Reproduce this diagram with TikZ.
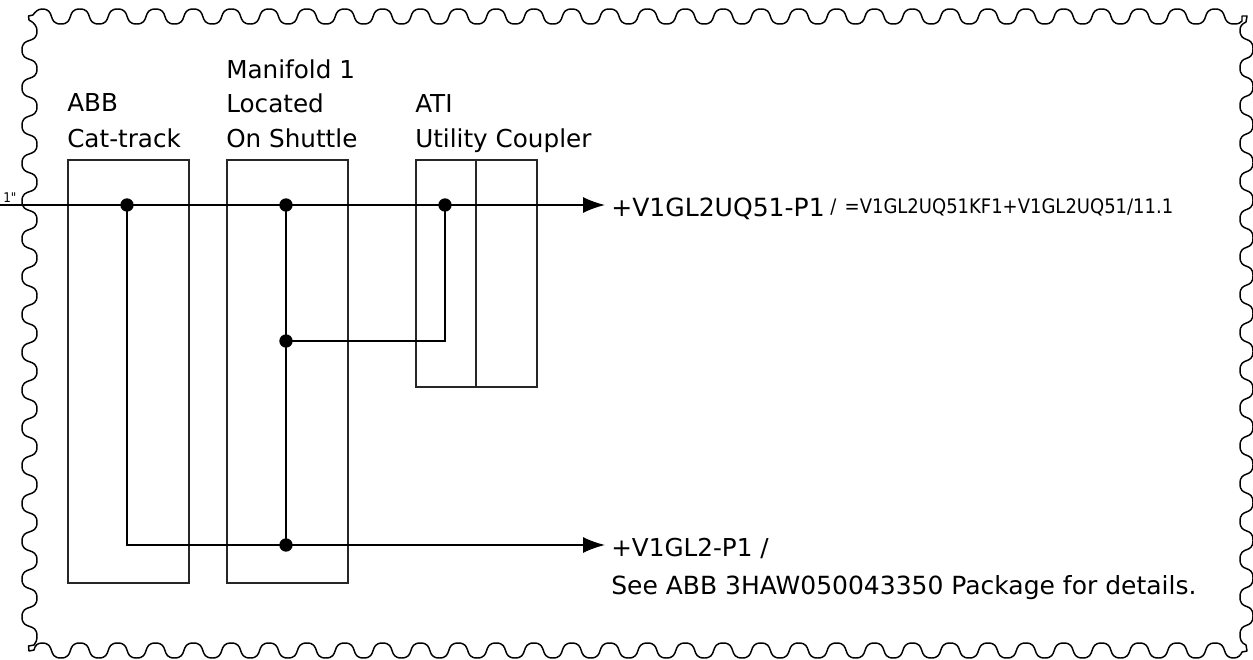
\documentclass[tikz,border=0pt]{standalone}
\usepackage{fontspec}
\setmainfont{DejaVu Sans}
\newfontfamily\smallfont{DejaVu Sans Condensed}
\usetikzlibrary{arrows.meta}
\newcommand{\pxfont}[1]{\fontsize{#1}{#1}\selectfont}
\tikzset{
  x=0.75pt, y=-0.75pt,
  wire/.style={line width=1.15pt, black},
  encl/.style={draw=black!85, line width=1.4pt, inner sep=0pt, rectangle, anchor=north west},
  dotnode/.style={circle, fill=black, inner sep=0pt, minimum size=10pt},
  lbl/.style={anchor=base west, inner sep=0pt, text=black, font=\pxfont{18.5}},
  biglbl/.style={lbl, font=\pxfont{18.8}},
  smalllbl/.style={lbl, font=\smallfont\pxfont{15}},
  flowarrow/.style={wire, -{Latex[length=16.5pt, width=12pt]}},
  edge line/.style={line width=1.1pt, black, line join=round}
}
\begin{document}
\begin{tikzpicture}
\useasboundingbox (0,0) rectangle (1253,660);
% scalloped border
\def\pa{37.84}\def\ha{18.92}\def\pb{37.8}\def\hb{18.9}\def\hh{14}
\draw[edge line]
  (42,9)
  \foreach \k in {0,...,31} {
    .. controls ({42+\k*\pa+\hh},9) and ({42+\k*\pa+\ha-\hh},24) .. ({42+\k*\pa+\ha},24)
    \ifnum\k<31 .. controls ({42+\k*\pa+\ha+\hh},24) and ({42+\k*\pa+\pa-\hh},9) .. ({42+\k*\pa+\pa},9) \fi
  }
  .. controls (1238,24) and (1241,23) .. (1242,21) -- (1242,16) -- (1247,16) -- (1246,22)
  .. controls (1242,24) and (1240,26) .. (1240,30)
  \foreach \k in {0,...,15} {
    .. controls (1240,{30+\k*\pb+\hh}) and (1253,{30+\k*\pb+\hb-\hh}) .. (1253,{30+\k*\pb+\hb})
    .. controls (1253,{30+\k*\pb+\hb+\hh}) and (1240,{30+\k*\pb+\pb-\hh}) .. (1240,{30+\k*\pb+\pb})
  }
  .. controls (1240,639) and (1241,643) .. (1246,645) -- (1247,651) -- (1242,652)
  .. controls (1241,655) and (1238,658) .. (1234,658)
  \foreach \k in {31,...,0} {
    .. controls ({42+\k*\pa+\ha-\hh},658) and ({42+\k*\pa+\hh},643) .. ({42+\k*\pa},643)
    \ifnum\k>0 .. controls ({42+\k*\pa-\hh},643) and ({42+\k*\pa-\ha+\hh},658) .. ({42+\k*\pa-\ha},658) \fi
  }
  .. controls (38,643) and (35,645) .. (34,650) -- (29,651) -- (28.5,646) -- (34,645)
  .. controls (36,643) and (37,640) .. (37,636)
  \foreach \k in {15,...,0} {
    .. controls (37,{31+\k*\pb+\pb-\hh}) and (22,{31+\k*\pb+\hb+\hh}) .. (22,{31+\k*\pb+\hb})
    .. controls (22,{31+\k*\pb+\hb-\hh}) and (37,{31+\k*\pb+\hh}) .. (37,{31+\k*\pb})
  }
  .. controls (37,27) and (35,23) .. (29,20) -- (28.5,16) -- (33,15)
  .. controls (35,12) and (38,9) .. (42,9) -- cycle;

% enclosures
\node[encl, minimum width=90.75pt, minimum height=317.25pt] (cat) at (66.7,158.7) {};
\node[encl, minimum width=90.75pt, minimum height=317.25pt] (man) at (225.7,158.7) {};
\node[encl, minimum width=90.75pt, minimum height=170.25pt] (ati) at (414.7,158.7) {};
\draw[draw=black!85, line width=1.4pt] (ati.north) -- (ati.south);

% titles
\node[lbl] (t1) at (67,112) {ABB};
\node[lbl] (t2) at (67,147) {Cat-track};
\node[lbl] (t3) at (226,79) {Manifold 1};
\node[lbl] (t4) at (226,113) {Located};
\node[lbl] (t5) at (226,147) {On Shuttle};
\node[lbl] (t6) at (415,113) {ATI};
\node[lbl] (t7) at (415,147) {Utility Coupler};

% junctions
\node[dotnode] (j1) at (127,205) {};
\node[dotnode] (j2) at (286,205) {};
\node[dotnode] (j3) at (445,205) {};
\node[dotnode] (j4) at (286,341) {};
\node[dotnode] (j5) at (286,545) {};
\coordinate (start) at (0,205);
\coordinate (end1) at (605,205);
\coordinate (end2) at (605,545);

% wires
\draw[flowarrow] (start) -- (end1);
\draw[flowarrow] (j5.center) -- (end2);
\draw[wire] (j1.center) |- (j5.center);
\draw[wire] (j2.center) -- (j5.center);
\draw[wire] (j4.center) -| (j3.center);

% end labels
\node[biglbl] (l1) at (611,216.5) {+V1GL2UQ51-P1};
\node[smalllbl] (l2) at (830,213.5) {/\hspace{2pt} =V1GL2UQ51KF1+V1GL2UQ51/11.1};
\node[lbl] (l3) at (611,556.5) {+V1GL2-P1};
\node[lbl] (l4) at (760,556.5) {/};
\node[lbl, font=\pxfont{18.75}] (l5) at (611,594.5) {See ABB 3HAW050043350 Package for details.};
\node[lbl, font=\smallfont\pxfont{10}] (l6) at (3,202) {1"};
\end{tikzpicture}
\end{document}
